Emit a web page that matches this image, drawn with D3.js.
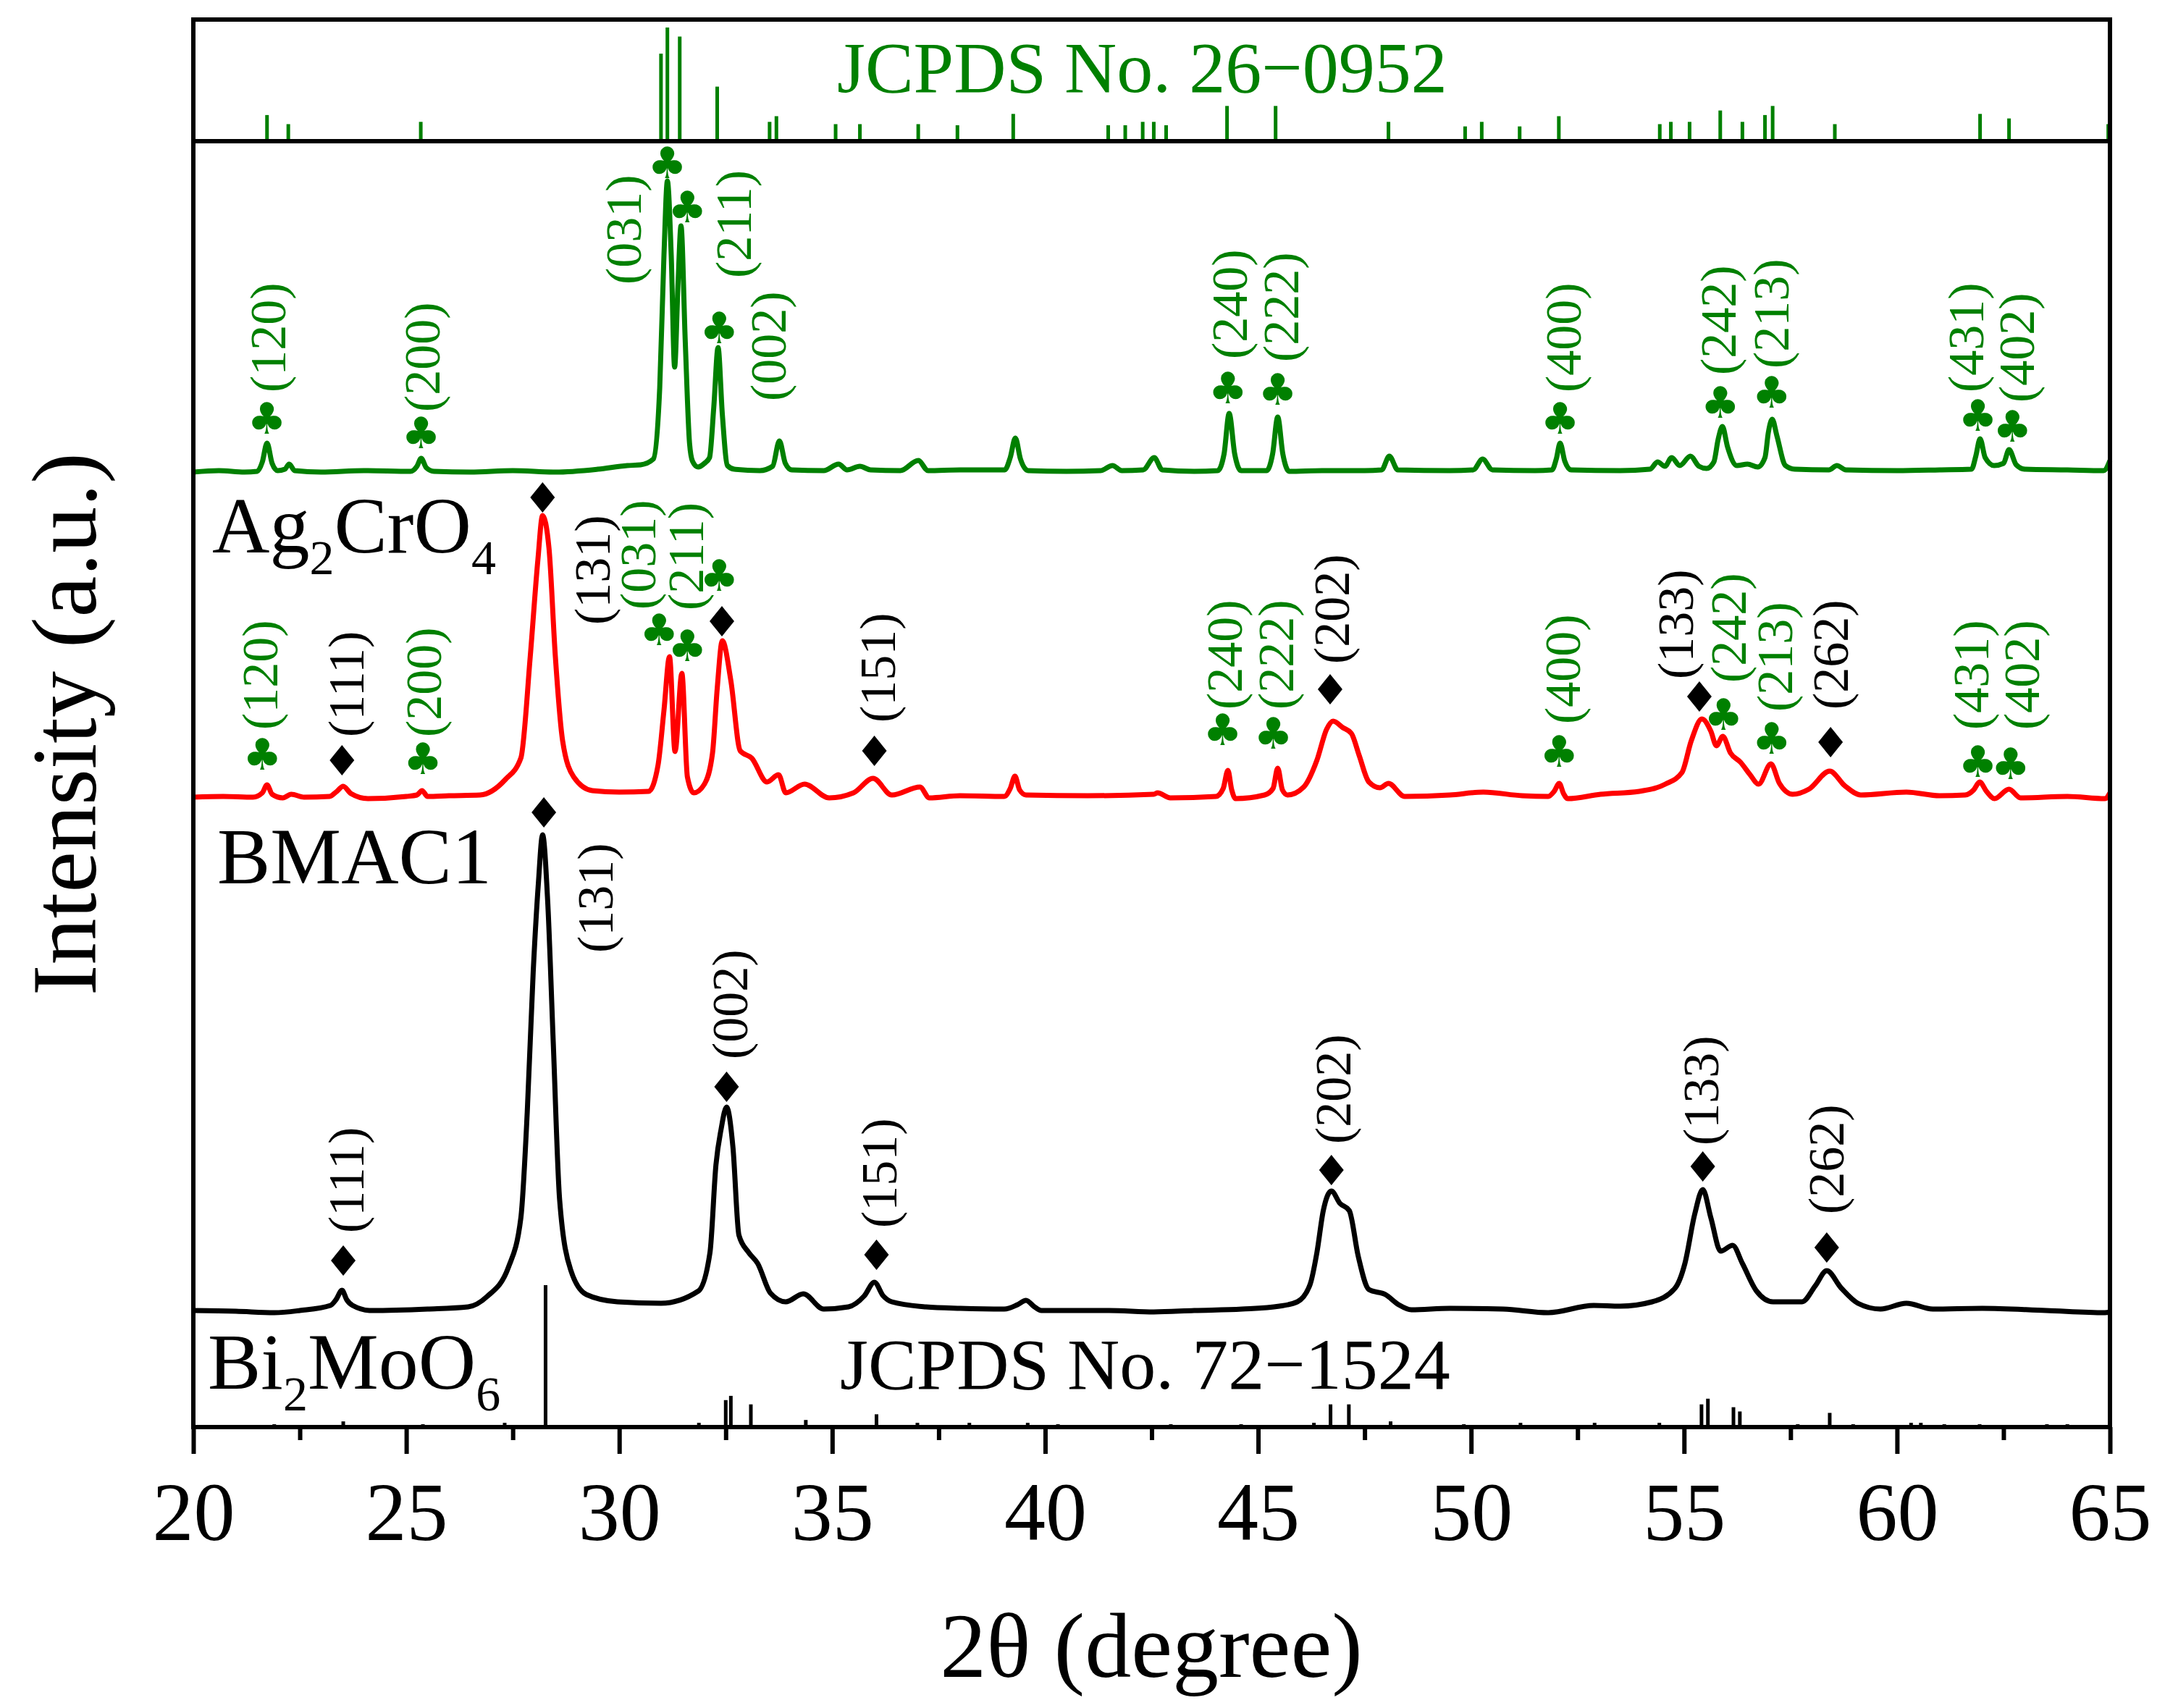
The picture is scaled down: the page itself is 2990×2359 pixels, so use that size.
<!DOCTYPE html>
<html>
<head>
<meta charset="UTF-8"/>
<script src="https://cdnjs.cloudflare.com/ajax/libs/d3/7.8.5/d3.min.js"></script>
<style>
body { margin: 0; background: #fff; }
svg { display: block; }
text { font-family: 'Liberation Serif', 'Times New Roman', serif; }
.tick text { font-size: 114px; }
.mark-club { font-family: 'DejaVu Sans', sans-serif; font-size: 60px; }
.hkl { font-size: 70px; }
.sample { font-size: 110px; }
.jcpds { font-size: 100px; }
.title { font-size: 128px; }
</style>
</head>
<body>
<svg id="chart" width="2990" height="2359"></svg>
<script>
// ---- data (2theta in degree, intensity in a.u.) ----
const xTicks = [20, 25, 30, 35, 40, 45, 50, 55, 60, 65];
const xMinor = [22.5, 27.5, 32.5, 37.5, 42.5, 47.5, 52.5, 57.5, 62.5];

// Ag2CrO4 pattern
const greenTheta = [20.0,20.6,21.2,21.5,21.62,21.73,21.85,21.98,22.15,22.25,22.38,23.0,24.0,25.1,25.25,25.35,25.47,25.65,26.5,27.5,28.5,29.5,30.19,30.5,30.8,30.95,31.05,31.13,31.22,31.3,31.38,31.45,31.55,31.65,31.72,31.85,32.0,32.12,32.22,32.32,32.42,32.54,32.7,33.3,33.6,33.76,33.9,34.05,34.8,35.15,35.35,35.65,35.9,36.6,37.02,37.25,38.0,39.05,39.18,39.3,39.42,39.6,40.5,41.3,41.58,41.8,42.3,42.56,42.75,43.5,44.05,44.2,44.32,44.45,44.6,45.2,45.34,45.46,45.58,45.73,46.5,47.5,47.9,48.08,48.28,49.5,50.05,50.27,50.5,51.5,51.9,52.0,52.09,52.2,52.35,53.5,54.2,54.38,54.55,54.71,54.9,55.15,55.35,55.53,55.7,55.8,55.9,56.02,56.24,56.49,56.73,56.9,56.98,57.07,57.18,57.38,57.6,58.4,58.59,58.8,60.0,61.0,61.75,61.85,61.95,62.07,62.28,62.5,62.63,62.8,63.0,64.0,64.85,65.0];
const greenI = [0,2,0,1,14,40,12,2,4,11,2,0,2,1,8,19,6,1,0,2,0,4,9,10,18,116,300,402,300,145,260,340,180,40,15,7,12,20,90,172,80,9,4,2,8,43,12,3,2,11,3,8,3,2,16,2,3,3,20,47,18,2,1,2,9,2,3,20,3,1,2,25,81,25,2,2,25,76,25,1,2,2,3,22,3,2,3,18,3,2,3,18,40,15,3,2,4,14,8,20,9,22,8,5,14,45,63,35,9,11,7,20,55,73,50,9,4,3,9,3,2,3,4,22,46,20,9,12,31,10,4,3,2,16];

// BMAC1 pattern
const redTheta = [20.0,20.7,21.4,21.62,21.73,21.85,22.1,22.3,22.6,23.2,23.35,23.52,23.7,24.1,25.0,25.25,25.37,25.5,26.0,26.73,27.32,27.69,27.91,28.09,28.2,28.35,28.5,28.67,28.93,29.37,30.0,30.69,30.91,31.05,31.18,31.31,31.47,31.6,31.75,32.0,32.19,32.3,32.42,32.62,32.84,33.11,33.47,33.74,33.91,34.35,34.93,35.5,35.96,36.4,37.06,37.28,38.0,39.04,39.18,39.29,39.4,39.55,41.0,42.55,42.64,42.94,44.01,44.18,44.29,44.38,44.47,45.15,45.35,45.46,45.57,45.69,46.07,46.38,46.61,46.76,46.99,47.19,47.37,47.6,47.86,48.06,48.44,49.5,50.29,51.2,51.81,51.95,52.07,52.17,52.27,53.04,53.95,54.56,54.95,55.17,55.42,55.63,55.76,55.91,56.09,56.33,56.55,56.75,57.04,57.24,57.55,57.93,58.42,58.77,59.15,60.22,61.0,61.6,61.8,61.94,62.1,62.29,62.63,62.9,64.0,64.88,65.0];
const redI = [0,1,0,6,17,4,-1,4,0,1,7,15,5,-2,1,3,9,1,2,3,24,54,194,328,389,344,194,78,28,9,7,8,44,120,194,63,171,28,6,18,61,150,216,161,64,54,21,31,6,18,-1,6,26,3,14,-1,2,1,12,29,10,3,2,4,6,-1,1,12,37,10,-2,3,12,40,10,3,14,51,94,105,96,88,58,21,13,19,1,3,7,2,1,8,19,5,-2,4,8,18,34,78,108,91,71,84,61,48,31,18,46,19,4,11,36,16,3,7,2,3,10,21,8,-2,11,-1,1,-2,6];

// Bi2MoO6 pattern
const blackTheta = [20.0,21.0,21.9,22.5,23.22,23.35,23.49,23.6,23.74,24.17,25.5,26.45,26.89,27.4,27.69,27.84,27.98,28.1,28.2,28.32,28.45,28.6,28.86,29.23,29.96,30.98,31.86,32.13,32.27,32.39,32.52,32.67,32.81,33.04,33.25,33.55,33.91,34.32,34.8,35.38,35.75,35.99,36.2,36.4,37.2,38.01,39.04,39.35,39.55,39.75,39.91,41.5,42.55,43.5,44.62,45.5,45.92,46.22,46.38,46.53,46.72,46.92,47.14,47.35,47.6,47.99,48.3,48.6,49.5,50.75,51.81,52.88,53.5,54.25,54.79,55.02,55.25,55.44,55.63,55.86,56.14,56.37,56.7,57.09,57.77,58.08,58.35,58.69,59.08,59.61,60.22,60.84,62.0,63.5,64.88,65.0];
const blackI = [0,-1,-3,0,7,15,28,15,7,0,2,5,19,60,128,274,468,589,657,565,371,153,56,22,12,10,27,80,201,250,281,225,104,80,65,24,12,23,2,5,20,39,20,12,5,3,2,8,14,5,0,0,-2,0,2,6,12,36,80,138,165,148,138,75,29,22,8,1,3,2,-3,7,6,12,31,65,133,167,128,82,90,65,27,12,12,34,55,31,10,2,10,2,3,0,-3,-2];

// vertical stacking of the three patterns (a.u.)
const seriesOffset = [161, 870, 1319];   // Bi2MoO6, BMAC1, Ag2CrO4

// reference cards (relative intensity, %)
const card26Theta = [21.73,22.23,25.34,30.98,31.13,31.42,32.30,33.53,33.69,35.08,35.65,37.02,37.94,39.25,41.48,41.88,42.29,42.55,42.84,44.27,45.41,48.06,49.86,50.25,51.14,52.06,54.43,54.69,55.13,55.85,56.37,56.90,57.08,58.54,61.95,62.63,64.96];
const card26I = [23,15,17,77,100,92,48,17,22,15,15,15,14,24,14,14,17,17,14,31,31,17,13,17,13,22,15,17,17,27,17,23,31,15,24,20,15];
const card72Theta = [21.9,23.52,25.39,27.31,28.27,31.87,32.5,32.62,33.09,34.38,36.04,37.0,38.22,39.59,40.3,42.95,44.6,46.31,46.7,47.13,48.11,49.83,51.16,52.9,54.42,55.41,55.56,56.16,56.31,57.67,58.42,58.97,60.33,60.56,61.11,61.94,63.52,64.0];
const card72I = [2,4,2,3,100,3,19,22,16,5,9,3,3,3,2,2,2,3,16,16,4,2,3,3,3,16,20,14,11,2,10,2,3,3,2,2,2,2];

// peak markers [2theta, level]
const clubMarks = [[21.73,1393],[25.35,1373],[31.13,1746],[31.6,1685],[32.35,1518],[44.29,1435],[45.46,1433],[52.09,1393],[55.85,1415],[57.06,1429],[61.9,1397],[62.71,1382],
  [21.62,929],[25.39,923],[30.94,1101],[31.6,1079],[32.35,1176],[44.17,963],[45.36,958],[52.07,933],[55.93,984],[57.06,951],[61.9,919],[62.67,916]];
const diamondMarks = [[23.49,921],[28.2,1284],[32.41,1113],[35.99,934],[46.69,1019],[55.36,1009],[58.44,946],
  [23.52,230],[28.23,849],[32.52,470],[36.04,238],[46.72,355],[55.44,360],[58.35,248]];

// hkl labels [text, 2theta, level of label start]
const greenHkl = [["(120)",21.76,1429],["(200)",25.38,1402],["(031)",30.11,1578],["(211)",32.69,1587],["(002)",33.5,1417],["(240)",44.33,1475],["(222)",45.55,1471],["(400)",52.18,1429],["(242)",55.81,1453],["(213)",57.06,1462],["(431)",61.63,1429],["(402)",62.82,1415],
  ["(120)",21.58,963],["(200)",25.42,953],["(031)",30.44,1129],["(211)",31.57,1128],["(240)",44.21,991],["(222)",45.43,991],["(400)",52.15,971],["(242)",56.05,1028],["(213)",57.13,988],["(431)",61.75,963],["(402)",62.94,963]];
const blackHkl = [["(111)",23.59,953],["(131)",29.37,1108],["(151)",36.08,973],["(202)",46.74,1054],["(133)",54.8,1033],["(262)",58.44,991],
  ["(111)",23.59,268],["(131)",29.45,655],["(002)",32.6,508],["(151)",36.1,275],["(202)",46.77,391],["(133)",55.41,389],["(262)",58.35,294]];

// ---- drawing ----
const GREEN = '#008000';
const svg = d3.select('#chart');
svg.append('rect').attr('width', 2990).attr('height', 2359).attr('fill', '#fff');

const x = d3.scaleLinear().domain([20, 65]).range([267, 2914]);
const y = d3.scaleLinear().domain([0, 1776]).range([1971, 195]);
const yCard26 = d3.scaleLinear().domain([0, 100]).range([195, 38]);
const yCard72 = d3.scaleLinear().domain([0, 100]).range([1971, 1775]);

// reference sticks
svg.append('g').selectAll('line')
  .data(d3.zip(card26Theta, card26I))
  .join('line')
  .attr('x1', d => x(d[0])).attr('x2', d => x(d[0]))
  .attr('y1', yCard26(0)).attr('y2', d => yCard26(d[1]))
  .attr('stroke', GREEN).attr('stroke-width', 5);

svg.append('g').selectAll('line')
  .data(d3.zip(card72Theta, card72I))
  .join('line')
  .attr('x1', d => x(d[0])).attr('x2', d => x(d[0]))
  .attr('y1', yCard72(0)).attr('y2', d => yCard72(d[1]))
  .attr('stroke', '#000').attr('stroke-width', 5);

// patterns
const patterns = [
  {t: blackTheta, v: blackI, off: seriesOffset[0], color: '#000'},
  {t: redTheta, v: redI, off: seriesOffset[1], color: '#ff0000'},
  {t: greenTheta, v: greenI, off: seriesOffset[2], color: GREEN}
];
patterns.forEach(p => {
  const line = d3.line()
    .x(d => x(d[0]))
    .y(d => y(d[1] + p.off))
    .curve(d3.curveMonotoneX);
  svg.append('path')
    .attr('d', line(d3.zip(p.t, p.v)))
    .attr('fill', 'none')
    .attr('stroke', p.color)
    .attr('stroke-width', 7)
    .attr('stroke-linejoin', 'round');
});

// markers
svg.append('g').selectAll('text')
  .data(clubMarks)
  .join('text')
  .attr('class', 'mark-club')
  .attr('x', d => x(d[0])).attr('y', d => y(d[1]))
  .attr('text-anchor', 'middle').attr('dominant-baseline', 'central')
  .attr('fill', GREEN)
  .text('\u2663');

svg.append('g').selectAll('path')
  .data(diamondMarks)
  .join('path')
  .attr('transform', d => `translate(${x(d[0])},${y(d[1])})`)
  .attr('d', 'M0,-21L17,0L0,21L-17,0Z')
  .attr('fill', '#000');

// hkl labels
function hkl(data, color) {
  svg.append('g').selectAll('text')
    .data(data)
    .join('text')
    .attr('class', 'hkl')
    .attr('transform', d => `translate(${x(d[1])},${y(d[2])}) rotate(-90)`)
    .attr('dominant-baseline', 'central')
    .attr('fill', color)
    .text(d => d[0]);
}
hkl(greenHkl, GREEN);
hkl(blackHkl, '#000');

// sample names
function formula(parts, px, py) {
  const t = svg.append('text').attr('class', 'sample').attr('x', px).attr('y', py);
  parts.forEach(p => {
    if (p.sub) {
      t.append('tspan').attr('font-size', 68).attr('dy', 30).text(p.s);
    } else {
      t.append('tspan').attr('dy', p.back ? -30 : 0).text(p.s);
    }
  });
}
formula([{s: 'Ag'}, {s: '2', sub: true}, {s: 'CrO', back: true}, {s: '4', sub: true}], 293, 763);
formula([{s: 'BMAC1'}], 300, 1220);
formula([{s: 'Bi'}, {s: '2', sub: true}, {s: 'MoO', back: true}, {s: '6', sub: true}], 287, 1918);

svg.append('text').attr('class', 'jcpds').attr('x', 1156).attr('y', 127)
  .attr('fill', GREEN).text('JCPDS No. 26\u22120952');
svg.append('text').attr('class', 'jcpds').attr('x', 1160).attr('y', 1918)
  .attr('fill', '#000').text('JCPDS No. 72\u22121524');

// frame and separator
svg.append('rect')
  .attr('x', 267).attr('y', 27).attr('width', 2914 - 267).attr('height', 1971 - 27)
  .attr('fill', 'none').attr('stroke', '#000').attr('stroke-width', 6);
svg.append('line')
  .attr('x1', 267).attr('x2', 2914).attr('y1', y(1776)).attr('y2', y(1776))
  .attr('stroke', '#000').attr('stroke-width', 6);

// x axis
const gx = svg.append('g').attr('transform', 'translate(0,1971)')
  .call(d3.axisBottom(x).tickValues(xTicks).tickSize(37).tickFormat(d3.format('d')));
gx.select('.domain').remove();
gx.selectAll('.tick line').attr('stroke-width', 6);
gx.selectAll('.tick text').attr('y', 156).attr('dy', 0).attr('fill', '#000')
  .attr('font-family', "'Liberation Serif', serif");

const gm = svg.append('g').attr('transform', 'translate(0,1971)')
  .call(d3.axisBottom(x).tickValues(xMinor).tickSize(18).tickFormat(''));
gm.select('.domain').remove();
gm.selectAll('.tick line').attr('stroke-width', 6);

// axis titles
svg.append('text').attr('class', 'title')
  .attr('x', 1590).attr('y', 2316).attr('text-anchor', 'middle')
  .text('2\u03b8 (degree)');
svg.append('text').attr('class', 'title')
  .attr('transform', 'translate(132,1000) rotate(-90)')
  .attr('text-anchor', 'middle')
  .text('Intensity (a.u.)');
</script>
</body>
</html>
